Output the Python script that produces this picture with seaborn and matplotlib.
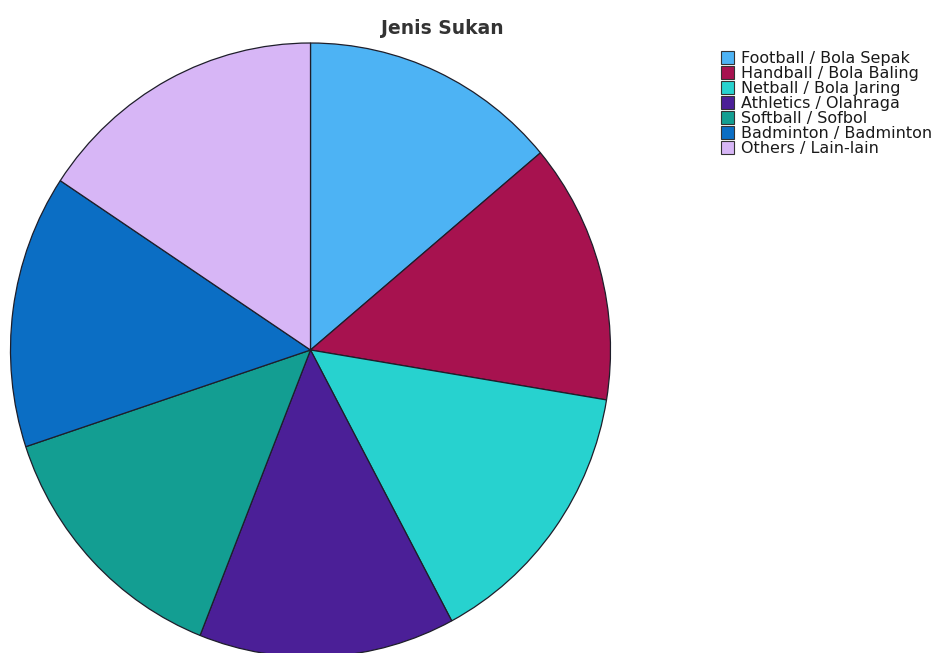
import numpy as np
import pandas as pd
import matplotlib
matplotlib.use("Agg")
import matplotlib.pyplot as plt
from matplotlib.patches import Rectangle
import seaborn as sns

sports = ["Football / Bola Sepak", "Handball / Bola Baling", "Netball / Bola Jaring",
          "Athletics / Olahraga", "Softball / Sofbol", "Badminton / Badminton",
          "Others / Lain-lain"]
share = [13.9, 13.7, 14.6, 13.8, 13.9, 14.4, 15.7]
colours = ["#4db3f4", "#a7124f", "#27d2cf", "#4b1f97", "#139e92", "#0b6ec4", "#d7b6f6"]

df = pd.DataFrame({"sport": sports, "share": share})

sns.set_style("white")
plt.rcParams["font.family"] = ["DejaVu Sans"]

W, H = 938, 653
fig = plt.figure(figsize=(W / 100, H / 100), dpi=100)
ax = fig.add_axes([0, 0, 1, 1])
palette = sns.color_palette(colours)

wedges, _ = ax.pie(
    df["share"],
    colors=palette,
    startangle=90,
    counterclock=False,
    radius=1,
    wedgeprops=dict(edgecolor="#1e1e2a", linewidth=0.9),
)

# place the pie like in the original (centre ~ (310, 350) px, slightly cut at the bottom)
ax.set_aspect("auto")
xmin = -310.5 / 300
ax.set_xlim(xmin, xmin + W / 300)
ymax = 350 / 307
ax.set_ylim(ymax - H / 307, ymax)
ax.axis("off")

fig.text(442 / W, 1 - 29 / H, "Jenis Sukan", ha="center", va="center",
         fontsize=13.5, fontweight="bold", color="#333333")

# legend drawn by hand to get the tight row spacing of the original
for i, (lab, c) in enumerate(zip(df["sport"], palette)):
    yc = 57 + 15 * i
    fig.patches.append(Rectangle((721 / W, 1 - (yc + 6.5) / H), 13 / W, 13 / H,
                                 transform=fig.transFigure, facecolor=c,
                                 edgecolor="#333333", linewidth=0.8))
    fig.text(741 / W, 1 - yc / H, lab, ha="left", va="center_baseline",
             fontsize=11.5, color="#1a1a1a")

fig.savefig("out.png", dpi=100)
